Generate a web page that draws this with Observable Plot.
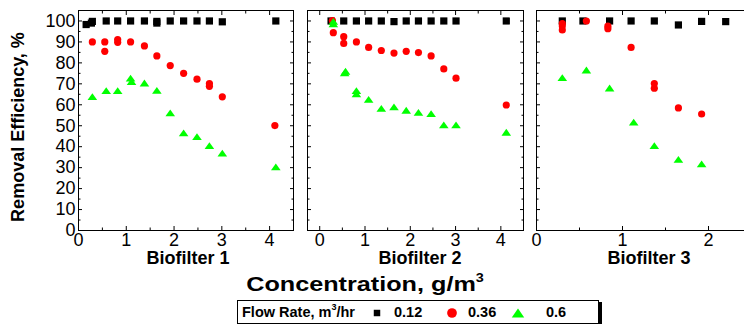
<!DOCTYPE html>
<html><head><meta charset="utf-8">
<script src="https://cdn.jsdelivr.net/npm/d3@7"></script>
<script src="https://cdn.jsdelivr.net/npm/@observablehq/plot@0.6"></script>
<style>
html,body{margin:0;padding:0;background:#fff;overflow:hidden}
#root{position:relative;width:744px;height:324px;overflow:hidden;font-family:"Liberation Sans",Arial,sans-serif;color:#000}
.panel{position:absolute;top:0}
.t{position:absolute;font-weight:bold;white-space:nowrap;line-height:0.85}
.lg{position:absolute;left:237px;top:300px;width:360px;height:22px;border:1px solid #000;box-shadow:3px 2px 0 #000;background:#fff}
.li{position:absolute;top:0;height:22px;line-height:22px;font-size:14.5px;font-weight:bold;white-space:nowrap}
.li sup{font-size:9px;line-height:0;vertical-align:7px}
</style></head><body><div id="root"></div>
<script>
// ---- data ----
const flowRates = ["0.12", "0.36", "0.6"];
const flowColors = ["#000000", "#ff0000", "#00ff00"];
const panelTitles = ["Biofilter 1", "Biofilter 2", "Biofilter 3"];
const yTickLabels = [0, 10, 20, 30, 40, 50, 60, 70, 80, 90, 100];

// Biofilter 1
const b1x012 = [0.16, 0.27, 0.29, 0.58, 0.82, 1.09, 1.38, 1.64, 1.64, 1.92, 2.20, 2.48, 2.74, 3.01, 4.13];
const b1y012 = [98.3, 99.0, 99.8, 100, 100, 100, 100, 99.8, 99.0, 100, 100, 100, 100, 99.6, 100];
const b1x036 = [0.29, 0.55, 0.55, 0.82, 0.82, 1.09, 1.38, 1.64, 1.92, 2.20, 2.48, 2.74, 2.74, 3.01, 4.11];
const b1y036 = [90.0, 90.0, 85.5, 91.1, 89.8, 90.0, 88.1, 83.3, 78.7, 75.0, 72.2, 70.1, 68.8, 63.8, 50.1];
const b1x06 = [0.29, 0.58, 0.82, 1.09, 1.11, 1.38, 1.64, 1.92, 2.20, 2.48, 2.74, 3.01, 4.13];
const b1y06 = [63.9, 66.8, 66.8, 72.7, 71.1, 70.4, 66.9, 56.1, 46.6, 44.8, 40.5, 36.9, 30.4];

// Biofilter 2
const b2x012 = [0.25, 0.53, 0.81, 1.08, 1.36, 1.64, 1.91, 2.18, 2.46, 2.74, 3.01, 4.12];
const b2y012 = [100, 100, 100, 100, 100, 99.7, 100, 100, 100, 100, 100, 100];
const b2x036 = [0.28, 0.30, 0.53, 0.53, 0.81, 1.08, 1.36, 1.64, 1.91, 2.18, 2.46, 2.74, 3.01, 4.12];
const b2y036 = [100.2, 94.4, 92.5, 89.3, 90.0, 87.4, 85.9, 84.7, 85.5, 84.9, 83.3, 77.1, 72.7, 59.9];
const b2x06 = [0.30, 0.30, 0.57, 0.55, 0.81, 0.81, 1.08, 1.36, 1.64, 1.91, 2.18, 2.46, 2.74, 3.01, 4.12];
const b2y06 = [99.8, 98.6, 76.0, 75.2, 66.8, 65.2, 62.6, 58.3, 59.0, 57.4, 56.4, 55.8, 50.4, 50.4, 46.9];

// Biofilter 3
const b3x012 = [0.30, 0.54, 0.85, 1.10, 1.37, 1.65, 1.92, 2.20];
const b3y012 = [100, 100, 100, 100, 100, 98.1, 99.8, 99.7];
const b3x036 = [0.30, 0.30, 0.30, 0.58, 0.83, 0.83, 1.10, 1.37, 1.37, 1.65, 1.92];
const b3y036 = [98.8, 97.6, 95.7, 100, 97.5, 96.3, 87.4, 70.1, 67.9, 58.5, 55.6];
const b3x06 = [0.30, 0.58, 0.85, 1.13, 1.37, 1.65, 1.92];
const b3y06 = [73.0, 76.6, 68.0, 51.7, 40.5, 33.9, 31.8];

const panelXDomains = [[0, 4.5], [-0.27, 4.5], [0, 2.5]];
const panelXTickLabels = [[0, 1, 2, 3, 4], [0, 1, 2, 3, 4], [0, 1, 2]];
const panelXMinor = [[0.5, 1.5, 2.5, 3.5], [0.5, 1.5, 2.5, 3.5], [0.5, 1.5]];

const panelSeries = [
  [[b1x012, b1y012], [b1x036, b1y036], [b1x06, b1y06]],
  [[b2x012, b2y012], [b2x036, b2y036], [b2x06, b2y06]],
  [[b3x012, b3y012], [b3x036, b3y036], [b3x06, b3y06]]
];

// ---- layout ----
const FONT = '"Liberation Sans", Arial, sans-serif';
const layout = [
  {left: 0, width: 296, ml: 78, mr: 3},
  {left: 290, width: 236, ml: 17, mr: 3},
  {left: 520, width: 240, ml: 16, mr: 9}
];
const squareSym = {draw(c) { const s = 3.6; c.moveTo(-s, -s); c.lineTo(s, -s); c.lineTo(s, s); c.lineTo(-s, s); c.closePath(); }};
const circleSym = {draw(c) { const r = 3.6; c.moveTo(r, 0); c.arc(0, 0, r, 0, 2 * Math.PI); c.closePath(); }};
const triSym = {draw(c) { const w = 4.8, h = 3.4; c.moveTo(0, -h); c.lineTo(w, h); c.lineTo(-w, h); c.closePath(); }};
const symbols = [squareSym, circleSym, triSym];

const yMajor = d3.range(0, 101, 10);
const yMinor = d3.range(5, 100, 10);

const root = document.getElementById("root");

panelSeries.forEach((series, p) => {
  const L = layout[p];
  const marks = [
    Plot.frame({stroke: "#000", strokeWidth: 1}),
    Plot.axisY(yMajor, {anchor: "left", tickSize: -4, tickFormat: () => "", label: null}),
    Plot.axisY(yMinor, {anchor: "left", tickSize: -2.5, tickFormat: () => "", label: null}),
    Plot.axisY(yMajor, {anchor: "right", tickSize: -4, tickFormat: () => "", label: null}),
    Plot.axisY(yMinor, {anchor: "right", tickSize: -2.5, tickFormat: () => "", label: null}),
    Plot.axisX(panelXTickLabels[p], {anchor: "bottom", tickSize: -4, tickFormat: () => "", label: null}),
    Plot.axisX(panelXMinor[p], {anchor: "bottom", tickSize: -2.5, tickFormat: () => "", label: null}),
    Plot.axisX(panelXTickLabels[p], {anchor: "top", tickSize: -4, tickFormat: () => "", label: null}),
    Plot.axisX(panelXMinor[p], {anchor: "top", tickSize: -2.5, tickFormat: () => "", label: null}),
    Plot.axisX(panelXTickLabels[p], {anchor: "bottom", tickSize: 0, tickPadding: 3, label: null, fontSize: 18})
  ];
  if (p === 0) {
    marks.push(Plot.axisY(yTickLabels, {anchor: "left", tickSize: 0, tickPadding: 3, label: null, fontSize: 18}));
  }
  series.forEach(([xs, ys], s) => {
    const rows = xs.map((x, i) => ({x, y: ys[i]}));
    marks.push(Plot.dot(rows, {x: "x", y: "y", symbol: symbols[s], fill: flowColors[s], stroke: "none", r: 4}));
  });
  const chart = Plot.plot({
    width: L.width, height: 262,
    marginLeft: L.ml, marginRight: L.mr, marginTop: 10, marginBottom: 32,
    x: {domain: panelXDomains[p]},
    y: {domain: [0, 105]},
    style: {fontFamily: FONT, fontSize: "18px", background: "transparent", color: "#000", overflow: "visible"},
    marks
  });
  chart.classList.add("panel");
  chart.style.left = L.left + "px";
  root.appendChild(chart);
});

// ---- titles ----
function addText(html, x, y, size, rotate, sx) {
  const d = document.createElement("div");
  d.className = "t";
  d.innerHTML = html;
  d.style.fontSize = size + "px";
  d.style.left = x + "px";
  d.style.top = y + "px";
  d.style.transform = "translate(-50%,-50%)" + (rotate ? " rotate(-90deg)" : "") + (sx ? ` scaleX(${sx})` : "");
  root.appendChild(d);
}
const titleX = [188, 420, 649];
panelTitles.forEach((t, i) => addText(t, titleX[i], 259, 18));
addText('Concentration, g/m<sup style="font-size:12px;vertical-align:9px;line-height:0">3</sup>', 365, 284, 21, false, 1.2);
addText("Removal Efficiency, %", 19, 127, 18, true);

// ---- legend ----
const lg = document.createElement("div");
lg.className = "lg";
root.appendChild(lg);
function li(html, x) {
  const d = document.createElement("div");
  d.className = "li"; d.innerHTML = html; d.style.left = x + "px";
  lg.appendChild(d);
}
li('Flow Rate, m<sup>3</sup>/hr', 4);
const legendSymX = [139, 214, 280];
const legendTextX = [156, 230, 308];
flowRates.forEach((r, i) => {
  const svg = d3.create("svg").attr("width", 16).attr("height", 22)
    .style("position", "absolute").style("top", "0px").style("left", (legendSymX[i] - 8) + "px");
  const g = svg.append("path").attr("transform", "translate(8,12)").attr("fill", flowColors[i]);
  const path = d3.path();
  const sc = [0.9, 1.35, 1.3][i];
  const ctx = {moveTo: (a, b) => path.moveTo(a * sc, b * sc), lineTo: (a, b) => path.lineTo(a * sc, b * sc),
    arc: (a, b, r, s0, s1) => path.arc(a * sc, b * sc, r * sc, s0, s1), closePath: () => path.closePath()};
  symbols[i].draw(ctx);
  g.attr("d", path.toString());
  lg.appendChild(svg.node());
  li(r, legendTextX[i]);
});
</script></body></html>
